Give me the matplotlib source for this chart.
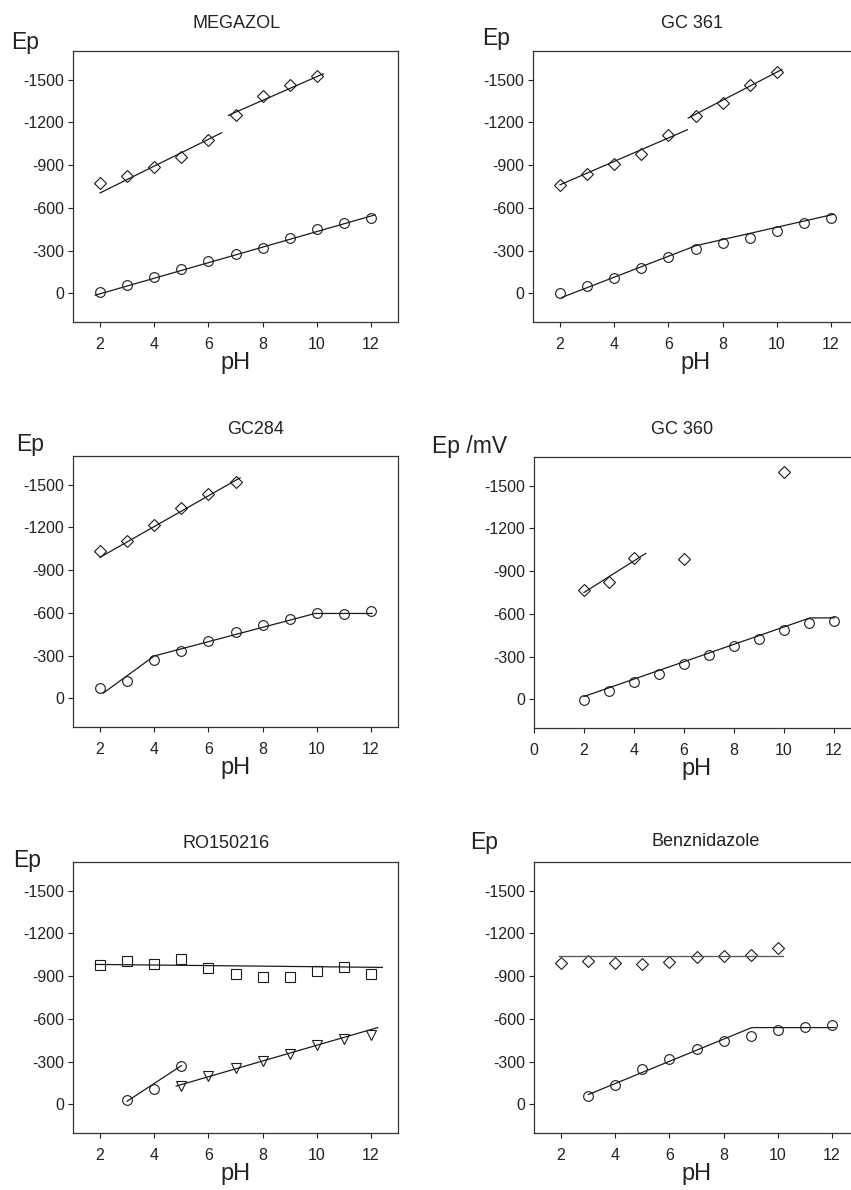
import numpy as np
import matplotlib
matplotlib.use("Agg")
import matplotlib.pyplot as plt

plt.rcParams['font.family'] = ['Liberation Sans', 'DejaVu Sans']
plt.rcParams['axes.unicode_minus'] = False

# ---- data (Ep in mV) ----
ph_full = [2, 3, 4, 5, 6, 7, 8, 9, 10, 11, 12]

# MEGAZOL
meg_ph_d = [2, 3, 4, 5, 6, 7, 8, 9, 10]
meg_ep_d = [-773, -827, -886, -958, -1078, -1249, -1385, -1465, -1523]
meg_ep_c = [-12, -59, -112, -169, -225, -277, -316, -389, -450, -492, -532]
meg_fit1_x = [2.0, 6.49]
meg_fit1_y = [-705, -1127]
meg_fit2_x = [6.74, 10.24]
meg_fit2_y = [-1249, -1540]
meg_fit3_x = [1.82, 12.15]
meg_fit3_y = [12, -551]

# GC 361
g361_ph_d = [2, 3, 4, 5, 6, 7, 8, 9, 10]
g361_ep_d = [-764, -839, -909, -975, -1113, -1242, -1338, -1460, -1554]
g361_ep_c = [-5, -52, -108, -176, -253, -309, -356, -387, -438, -497, -532]
g361_fit1_x = [2.0, 6.70]
g361_fit1_y = [-762, -1148]
g361_fit2_x = [6.73, 10.19]
g361_fit2_y = [-1230, -1570]
g361_fit3_x = [2.06, 7.01, 12.1]
g361_fit3_y = [28, -335, -555]

# GC284
g284_ph_d = [2, 3, 4, 5, 6, 7]
g284_ep_d = [-1035, -1103, -1218, -1333, -1437, -1516]
g284_ep_c = [-75, -122, -272, -333, -404, -467, -514, -559, -601, -589, -610]
g284_fit1_x = [2.0, 7.17]
g284_fit1_y = [-990, -1547]
g284_fit2_x = [2.12, 4.0, 9.94, 12.04]
g284_fit2_y = [-38, -298, -596, -596]

# GC 360
g360_ph_d = [2, 3, 4, 6, 10]
g360_ep_d = [-766, -827, -989, -984, -1596]
g360_ep_c = [7, -59, -122, -178, -246, -309, -377, -427, -490, -534, -548]
g360_fit1_x = [2.0, 4.47]
g360_fit1_y = [-750, -1024]
g360_fit2_x = [2.0, 11.04, 12.02]
g360_fit2_y = [-21, -572, -572]

# RO150216
ro_ep_s = [-975, -1003, -987, -1019, -956, -914, -893, -891, -937, -963, -914]
ro_fit_s_x = [1.83, 12.42]
ro_fit_s_y = [-982, -961]
ro_ph_c = [3, 4, 5]
ro_ep_c = [-28, -105, -272]
ro_fit_c_x = [3.0, 5.0]
ro_fit_c_y = [-23, -272]
ro_ph_t = [5, 6, 7, 8, 9, 10, 11, 12]
ro_ep_t = [-127, -199, -255, -305, -356, -420, -462, -490]
ro_fit_t_x = [4.81, 12.25]
ro_fit_t_y = [-129, -539]

# Benznidazole
bz_ph_d = [2, 3, 4, 5, 6, 7, 8, 9, 10]
bz_ep_d = [-994, -1003, -994, -987, -1001, -1036, -1038, -1045, -1094]
bz_fit1_x = [1.94, 10.18]
bz_fit1_y = [-1043, -1043]
bz_ph_c = [3, 4, 5, 6, 7, 8, 9, 10, 11, 12]
bz_ep_c = [-61, -138, -246, -319, -389, -443, -483, -523, -544, -558]
bz_fit2_x = [3.01, 9.04, 12.12]
bz_fit2_y = [-70, -539, -539]

y_ticks = [0, -300, -600, -900, -1200, -1500]

W, H = 851, 1190
fig = plt.figure(figsize=(W / 100, H / 100), dpi=100)
TXT = '#222222'
LINE = '#1a1a1a'


def make_ax(left, top, width, bottom, xlim, xticks):
    ax = fig.add_axes([left / W, 1 - bottom / H, width / W, (bottom - top) / H])
    ax.set_xlim(*xlim)
    ax.set_ylim(200, -1700)
    ax.set_xticks(xticks)
    ax.set_yticks(y_ticks)
    ax.tick_params(direction='out', length=3.5, width=0.8, labelsize=11.5,
                   colors=TXT)
    ax.tick_params(axis='x', pad=7)
    ax.tick_params(axis='y', pad=3)
    for s in ax.spines.values():
        s.set_linewidth(0.9)
        s.set_color('#333333')
    ax.set_xlabel('pH', fontsize=17, color=TXT, labelpad=0)
    return ax


def labels(ax, title, tx, ty, ylab, yx, yy):
    fig.text(tx / W, 1 - ty / H, title, fontsize=13, color=TXT,
             ha='center', va='center')
    fig.text(yx / W, 1 - yy / H, ylab, fontsize=16.5, color=TXT,
             ha='center', va='center')


def pts(ax, x, y, marker, ms=6.5):
    ax.plot(x, y, linestyle='none', marker=marker, ms=ms, mfc='none',
            mec=LINE, mew=0.8)


def fit(ax, x, y, color=LINE):
    ax.plot(x, y, color=color, lw=0.9)


xt = [2, 4, 6, 8, 10, 12]

# MEGAZOL
ax = make_ax(73, 51, 325, 322, (1, 13), xt)
pts(ax, meg_ph_d, meg_ep_d, 'D', 6.5)
pts(ax, ph_full, meg_ep_c, 'o', 7)
fit(ax, meg_fit1_x, meg_fit1_y)
fit(ax, meg_fit2_x, meg_fit2_y)
fit(ax, meg_fit3_x, meg_fit3_y)
labels(ax, 'MEGAZOL', 237, 24, 'Ep', 25, 43)

# GC 361
ax = make_ax(533, 51, 325, 322, (1, 13), xt)
pts(ax, g361_ph_d, g361_ep_d, 'D', 6.5)
pts(ax, ph_full, g361_ep_c, 'o', 7)
fit(ax, g361_fit1_x, g361_fit1_y)
fit(ax, g361_fit2_x, g361_fit2_y)
fit(ax, g361_fit3_x, g361_fit3_y)
labels(ax, 'GC 361', 692, 24, 'Ep', 496, 38)

# GC284
ax = make_ax(73, 456, 325, 727, (1, 13), xt)
pts(ax, g284_ph_d, g284_ep_d, 'D', 6.5)
pts(ax, ph_full, g284_ep_c, 'o', 7)
fit(ax, g284_fit1_x, g284_fit1_y)
fit(ax, g284_fit2_x, g284_fit2_y)
labels(ax, 'GC284', 256, 429, 'Ep', 30, 445)

# GC 360
ax = make_ax(534, 457, 325, 728, (0, 13), [0, 2, 4, 6, 8, 10, 12])
pts(ax, g360_ph_d, g360_ep_d, 'D', 6.5)
pts(ax, ph_full, g360_ep_c, 'o', 7)
fit(ax, g360_fit1_x, g360_fit1_y)
fit(ax, g360_fit2_x, g360_fit2_y)
labels(ax, 'GC 360', 682, 429, 'Ep /mV', 470, 447)

# RO150216
ax = make_ax(73, 862, 325, 1133, (1, 13), xt)
pts(ax, ph_full, ro_ep_s, 's', 6.5)
pts(ax, ro_ph_c, ro_ep_c, 'o', 7)
pts(ax, ro_ph_t, ro_ep_t, 'v', 7)
fit(ax, ro_fit_s_x, ro_fit_s_y)
fit(ax, ro_fit_c_x, ro_fit_c_y)
fit(ax, ro_fit_t_x, ro_fit_t_y)
labels(ax, 'RO150216', 226, 843, 'Ep', 27, 861)

# Benznidazole
ax = make_ax(534, 862, 325, 1133, (1, 13), xt)
pts(ax, bz_ph_d, bz_ep_d, 'D', 6.5)
pts(ax, bz_ph_c, bz_ep_c, 'o', 7)
fit(ax, bz_fit1_x, bz_fit1_y, color='#555555')
fit(ax, bz_fit2_x, bz_fit2_y)
labels(ax, 'Benznidazole', 706, 842, 'Ep', 484, 843)

fig.savefig('out.png', dpi=100)
